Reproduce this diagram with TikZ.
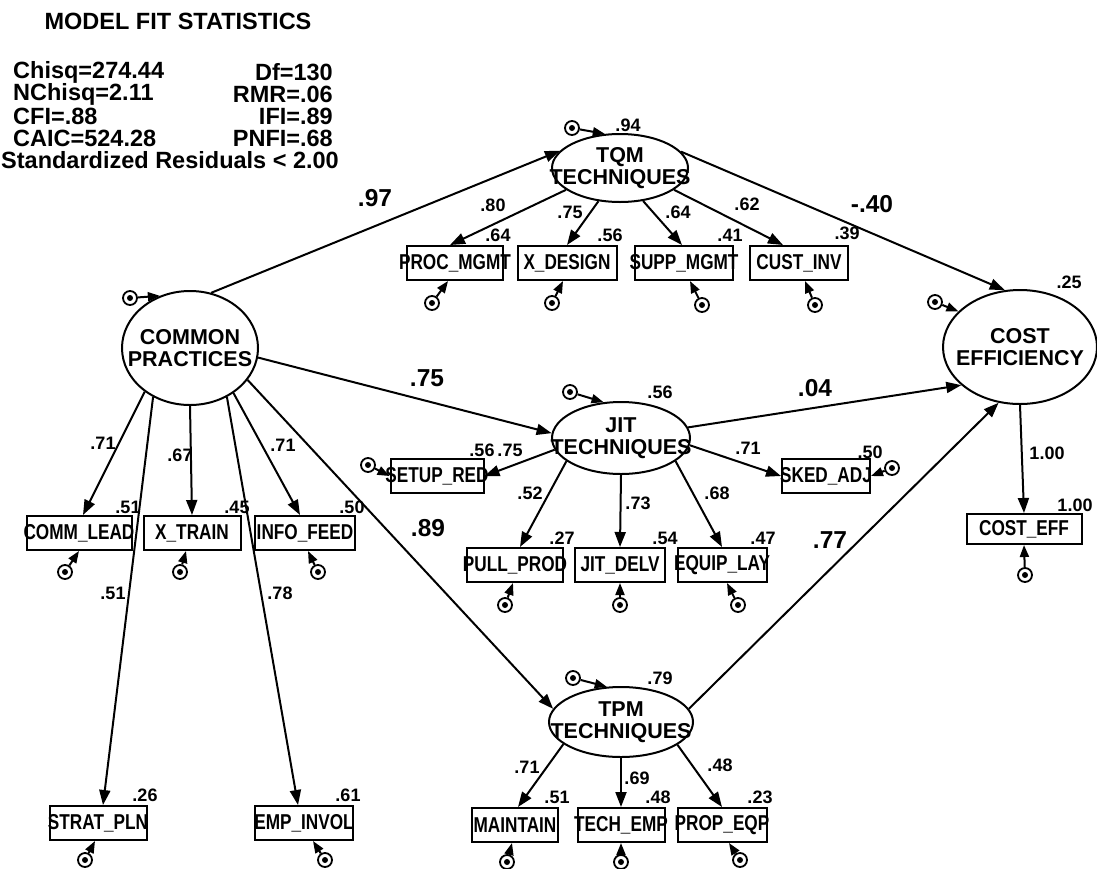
\documentclass[tikz,border=0pt]{standalone}
\usepackage{fontspec}
\setmainfont{Liberation Sans}
\newfontfamily\narrowfam[FakeStretch=0.8]{Liberation Sans}
\usetikzlibrary{shapes.geometric,arrows.meta}

\newcommand{\statfont}{\bfseries\fontsize{23.5}{22}\selectfont}
\newcommand{\latfont}{\bfseries\fontsize{21.5}{22}\selectfont}
\newcommand{\indfont}{\narrowfam\bfseries\fontsize{21.5}{21.5}\selectfont}
\newcommand{\numfont}{\bfseries\fontsize{18}{18}\selectfont}
\newcommand{\coeffont}{\bfseries\fontsize{24.5}{24.5}\selectfont}

\tikzset{
  latent/.style={ellipse, draw, line width=2pt, inner sep=0pt,
    label={[font=\latfont, align=center]center:#1}},
  ind/.style={rectangle, draw, line width=2pt, minimum height=34pt, inner sep=0pt,
    label={[font=\indfont]center:#1}},
  err/.style={circle, draw, line width=1.8pt, minimum size=14pt, inner sep=0pt,
    path picture={\fill (path picture bounding box.center) circle (3pt);}},
  arr/.style={-{Triangle[length=15pt,width=11pt]}, line width=2pt},
  earr/.style={-{Triangle[length=12pt,width=9pt]}, line width=2pt},
  num/.style={font=\numfont, inner sep=0pt},
  coef/.style={font=\coeffont, inner sep=0pt},
  stat/.style={font=\statfont, inner sep=0pt}
}

\begin{document}
\begin{tikzpicture}[x=1pt, y=-1pt]
  \useasboundingbox (0,0) rectangle (1097,868);

  % Fit statistics
  \node[stat] (title) at (178,21) {MODEL FIT STATISTICS};
  \foreach \r/\lft/\rgt in {0/Chisq=274.44/Df=130, 1/NChisq=2.11/RMR=.06,
                            2/CFI=.88/IFI=.89, 3/CAIC=524.28/PNFI=.68}{
    \node[stat, anchor=west] (fl\r) at (13,72+22*\r) {\lft};
    \node[stat, anchor=east] (fr\r) at (333,72+22*\r) {\rgt};
  }
  \node[stat, anchor=west] (resid) at (1,160) {Standardized Residuals < 2.00};

  % Latent variables
  \node[latent={COMMON\\PRACTICES}, minimum width=136pt, minimum height=114pt] (cp) at (190,348) {};
  \node[latent={TQM\\TECHNIQUES}, minimum width=136pt, minimum height=68pt] (tqm) at (620,168) {};
  \node[latent={JIT\\TECHNIQUES}, minimum width=138pt, minimum height=72pt] (jit) at (621,438) {};
  \node[latent={TPM\\TECHNIQUES}, minimum width=144pt, minimum height=70pt] (tpm) at (621,722) {};
  \node[latent={COST\\EFFICIENCY}, minimum width=154pt, minimum height=114pt] (cost) at (1020,347) {};

  % Indicators
  \node[ind=PROC\_MGMT, minimum width=96pt] (pm) at (455,263) {};
  \node[ind=X\_DESIGN, minimum width=99pt] (xd) at (567,263) {};
  \node[ind=SUPP\_MGMT, minimum width=98pt] (sm) at (684,263) {};
  \node[ind=CUST\_INV, minimum width=98pt] (ci) at (799,263) {};
  \node[ind=COMM\_LEAD, minimum width=105pt] (cl) at (79,533) {};
  \node[ind=X\_TRAIN, minimum width=97pt] (xt) at (192,533) {};
  \node[ind=INFO\_FEED, minimum width=100pt] (inf) at (305,533) {};
  \node[ind=STRAT\_PLN, minimum width=97pt] (spl) at (98,823) {};
  \node[ind=EMP\_INVOL, minimum width=98pt] (emp) at (304,823) {};
  \node[ind=SETUP\_RED, minimum width=93pt] (sr) at (437,476) {};
  \node[ind=SKED\_ADJ, minimum width=88pt] (sk) at (826,476) {};
  \node[ind=PULL\_PROD, minimum width=96pt] (pp) at (515,565) {};
  \node[ind=JIT\_DELV, minimum width=90pt] (jd) at (620,565) {};
  \node[ind=EQUIP\_LAY, minimum width=89pt] (el) at (722,565) {};
  \node[ind=MAINTAIN, minimum width=86pt] (mt) at (515,825) {};
  \node[ind=TECH\_EMP, minimum width=87pt] (te) at (621,825) {};
  \node[ind=PROP\_EQP, minimum width=89pt] (pe) at (722,825) {};
  \node[ind=COST\_EFF, minimum width=115pt, minimum height=30pt] (ce) at (1024,529) {};

  % Structural paths
  \draw[arr] (cp.69) -- (tqm.164);
  \draw[arr] (cp.352) -- (jit.176);
  \draw[arr] (cp.331) -- (tpm.169);
  \draw[arr] (tqm.15) -- (cost.105);
  \draw[arr] (jit.9) -- (cost.213);
  \draw[arr] (tpm.11) -- (cost.249);

  % Loadings
  \draw[arr] (cp.224) -- ([xshift=4pt]cl.north);
  \draw[arr] (cp.270) -- (xt.north);
  \draw[arr] (cp.314) -- ([xshift=-5pt]inf.north);
  \draw[arr] (cp.233) -- ([xshift=5pt]spl.north);
  \draw[arr] (cp.307) -- ([xshift=-6pt]emp.north);
  \draw[arr] (tqm.202) -- ([xshift=-5pt]pm.north);
  \draw[arr] (tqm.237) -- (xd.north);
  \draw[arr] (tqm.305) -- ([xshift=-2pt]sm.north);
  \draw[arr] (tqm.338) -- ([xshift=-16pt]ci.north);
  \draw[arr] (jit.190) -- (sr.east);
  \draw[arr] (jit.354) -- (sk.west);
  \draw[arr] (jit.203) -- ([xshift=5pt]pp.north);
  \draw[arr] (jit.270) -- (jd.north);
  \draw[arr] (jit.337) -- (el.north);
  \draw[arr] (tpm.201) -- ([xshift=3pt]mt.north);
  \draw[arr] (tpm.270) -- (te.north);
  \draw[arr] (tpm.338) -- (pe.north);
  \draw[arr] (cost.south) -- (ce.north);

  % Disturbances
  \node[err] (ecp) at (130,298) {};
  \draw[earr] (ecp) -- (cp.120);
  \node[err] (etqm) at (572,128) {};
  \draw[earr] (etqm) -- (tqm.114);
  \node[err] (ejit) at (570,392) {};
  \draw[earr] (ejit) -- (jit.116);
  \node[err] (etpm) at (573,678) {};
  \draw[earr] (etpm) -- (tpm.112);
  \node[err] (ecost) at (935,302) {};
  \draw[earr] (ecost) -- (cost.150);

  % Measurement errors
  \foreach \nm/\x/\y/\dx in {pm/432/303/-7, xd/552/303/-4, sm/702/305/6, ci/815/305/6,
      cl/65/572/0, xt/180/572/-6, inf/318/572/3, spl/85/860/-3, emp/325/860/9,
      pp/505/605/-2, jd/620/605/0, el/738/605/5,
      mt/507/862/-3, te/621/862/0, pe/740/860/7, ce/1025/575/0}{
    \node[err] (e\nm) at (\x,\y) {};
    \draw[earr] (e\nm) -- ([xshift=\dx pt]\nm.south);
  }
  \node[err] (esr) at (368,465) {};
  \draw[earr] (esr) -- (sr.west);
  \node[err] (esk) at (892,468) {};
  \draw[earr] (esk) -- (sk.east);

  % Path coefficients
  \node[coef] (c1) at (375,198) {.97};
  \node[coef] (c2) at (427,378) {.75};
  \node[coef] (c3) at (428,528) {.89};
  \node[coef] (c4) at (872,204) {-.40};
  \node[coef] (c5) at (815,388) {.04};
  \node[coef] (c6) at (830,540) {.77};

  % Loadings and squared multiple correlations
  \foreach \x/\y/\t [count=\i] in {493/205/.80, 570/212/.75, 678/212/.64, 747/204/.62,
      498/235/.64, 610/235/.56, 730/235/.41, 847/233/.39, 628/125/.94,
      103/443/.71, 180/455/.67, 283/445/.71, 128/507/.51, 237/507/.45, 352/507/.50,
      113/593/.51, 280/593/.78, 145/795/.26, 348/795/.61,
      660/392/.56, 482/450/.56, 510/450/.75, 748/448/.71, 870/452/.50,
      530/493/.52, 638/503/.73, 717/493/.68, 562/538/.27, 665/538/.54, 763/538/.47,
      660/678/.79, 527/767/.71, 637/778/.69, 720/765/.48,
      557/797/.51, 658/797/.48, 760/797/.23,
      1069/282/.25, 1047/453/1.00, 1075/505/1.00}{
    \node[num] (n\i) at (\x,\y) {\t};
  }
\end{tikzpicture}
\end{document}
